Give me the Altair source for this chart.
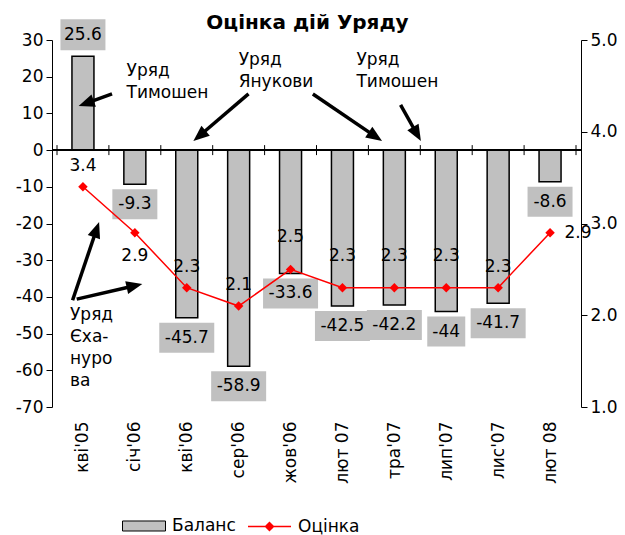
import json, math
import altair as alt
import pandas as pd

# ---------------- data ----------------
categories = ["кві'05", "січ'06", "кві'06", "сер'06", "жов'06",
              "лют 07", "тра'07", "лип'07", "лис'07", "лют 08"]
balance = [25.6, -9.3, -45.7, -58.9, -33.6, -42.5, -42.2, -44, -41.7, -8.6]
rating = [3.4, 2.9, 2.3, 2.1, 2.5, 2.3, 2.3, 2.3, 2.3, 2.9]
rating_label_side = ["above", "below", "above", "above", "high",
                     "high", "high", "high", "above", "right"]

left_ticks = list(range(-70, 31, 10))
right_ticks = [1, 2, 3, 4, 5]
series_names = ["Баланс", "Оцінка"]
title_text = "Оцінка дій Уряду"

# annotation texts (x in category units from left edge, y in balance units)
ann_text = ["Уряд\nТимошен", "Уряд\nЯнукови", "Уряд\nТимошен", "Уряд\nЄха-\nнуро\nва"]
ann_x = [1.34, 3.50, 5.77, 0.25]
ann_y = [20.3, 23.2, 23.2, -46.2]

# arrows: start and tip (same units)
arr_x1 = [1.06, 3.69, 4.93, 6.62, 0.30, 0.38]
arr_y1 = [15.3, 15.3, 15.3, 12.3, -40.9, -40.6]
arr_x2 = [0.42, 2.63, 6.26, 7.01, 0.81, 1.64]
arr_y2 = [12.0, 2.5, 2.5, 2.5, -19.6, -36.5]

# ---------------- layout ----------------
W, H = 529, 367
FONT = "DejaVu Sans"
n = len(categories)
sx = W / n          # px per category unit
sy = H / 100.0      # px per balance unit

df = pd.DataFrame({
    "cat": categories,
    "pos": [i + 0.5 for i in range(n)],
    "bal": balance,
    "rat": rating,
    "side": rating_label_side,
})
df["bal_lbl"] = [f"{v:g}" for v in balance]
df["len"] = df["bal_lbl"].str.len()
df["rat_lbl"] = [f"{v:.1f}" for v in rating]
df["s1"] = series_names[0]
df["s2"] = series_names[1]

bounds = pd.DataFrame({"b": list(range(n + 1))})

ann = pd.DataFrame({"x": ann_x, "y": ann_y, "t": ann_text})

# arrow geometry: head centre set back from tip along the direction
head_back = 10.0
rows = []
for x1, y1, x2, y2 in zip(arr_x1, arr_y1, arr_x2, arr_y2):
    dxp = (x2 - x1) * sx
    dyp = -(y2 - y1) * sy
    L = math.hypot(dxp, dyp)
    ux, uy = dxp / L, dyp / L
    cx = x2 - head_back * ux / sx
    cy = y2 + head_back * uy / sy
    ang = math.degrees(math.atan2(dxp, -dyp)) % 360
    rows.append({"x1": x1, "y1": y1, "cx": cx, "cy": cy, "ang": ang})
arr = pd.DataFrame(rows)

# ---------------- encodings ----------------
xscale = alt.Scale(domain=[0, n], nice=False, zero=False)
labelexpr = json.dumps(categories, ensure_ascii=False) + "[floor(datum.value)]"
xaxis = alt.Axis(values=[i + 0.5 for i in range(n)], labelExpr=labelexpr,
                 labelAngle=270, labelAlign="right", labelBaseline="middle",
                 ticks=False, domain=False, grid=False, title=None,
                 labelPadding=14, labelFontSize=17, labelOverlap=False,
                 labelColor="black", labelFont=FONT)
yl_scale = alt.Scale(domain=[-70, 30], nice=False)
yl_axis = alt.Axis(values=left_ticks, labelExpr="'' + datum.value", grid=False,
                   title=None, labelFontSize=17,
                   labelColor="black", domainColor="black", tickColor="black",
                   tickSize=6, labelPadding=3, labelFont=FONT)
yr_scale = alt.Scale(domain=[1, 5], nice=False, zero=False)
yr_axis = alt.Axis(values=right_ticks, format=".1f", orient="right", grid=False,
                   title=None, labelFontSize=17, labelColor="black",
                   domainColor="black", tickColor="black", tickSize=6,
                   labelPadding=3, labelFont=FONT)


def X(field):
    return alt.X(field, type="quantitative", scale=xscale, axis=xaxis)


def YL(field):
    return alt.Y(field, type="quantitative", scale=yl_scale, axis=yl_axis)


base = alt.Chart(df)

bars = base.mark_bar(width=22, color="#c0c0c0", stroke="black", strokeWidth=1.5).encode(
    x=X("pos"), y=YL("bal"),
    fill=alt.Fill("s1:N", scale=alt.Scale(domain=[series_names[0]], range=["#c0c0c0"]),
                  legend=alt.Legend(title=None, orient="none", legendX=70, legendY=464,
                                    symbolType="M-1,-0.233H1V0.233H-1Z", symbolSize=1849,
                                    symbolStrokeColor="black", symbolStrokeWidth=1,
                                    labelFontSize=17, labelOffset=6, padding=0,
                                    labelFont=FONT, labelColor="black")),
)

zero_rule = alt.Chart(df).mark_rule(color="black", strokeWidth=1).encode(
    y=alt.Y(datum=0, type="quantitative", scale=yl_scale, axis=yl_axis))

zero_ticks = alt.Chart(bounds).mark_point(shape="M0,-1V1", size=100, stroke="black",
                                          strokeWidth=1, filled=False, opacity=1).encode(
    x=X("b"), y=alt.Y(datum=0, type="quantitative", scale=yl_scale, axis=yl_axis))

box_w = {3: 38, 4: 45, 5: 55}
box_layers = []
for L in sorted(df["len"].unique()):
    for neg in (True, False):
        cond = f"datum.len == {L} && datum.bal {'<' if neg else '>='} 0"
        box_layers.append(
            base.transform_filter(cond).mark_bar(
                width=box_w[int(L)], color="#c0c0c0",
                yOffset=5 if neg else -6, y2Offset=35 if neg else -37).encode(
                x=X("pos"), y=YL("bal"), y2=alt.Y2("bal")))

lbl_neg = base.transform_filter("datum.bal < 0").mark_text(
    dy=20, fontSize=17, font=FONT, color="black", baseline="middle").encode(
    x=X("pos"), y=YL("bal"), text="bal_lbl:N")
lbl_pos = base.transform_filter("datum.bal >= 0").mark_text(
    dy=-21, fontSize=17, font=FONT, color="black", baseline="middle").encode(
    x=X("pos"), y=YL("bal"), text="bal_lbl:N")

ann_txt = alt.Chart(ann).mark_text(align="left", baseline="alphabetic", fontSize=17,
                                   font=FONT, color="black", lineBreak="\n",
                                   lineHeight=22).encode(
    x=X("x"), y=YL("y"), text="t:N")

arrow_lines = alt.Chart(arr).mark_rule(color="black", strokeWidth=3.5).encode(
    x=X("x1"), y=YL("y1"), x2="cx", y2="cy")
arrow_heads = alt.Chart(arr).mark_point(shape="M0,-1L0.65,0.6L-0.65,0.6Z", size=400,
                                        filled=True, color="black", opacity=1).encode(
    x=X("cx"), y=YL("cy"), angle=alt.Angle("ang:Q", scale=None))

left_group = alt.layer(bars, zero_rule, zero_ticks, *box_layers, lbl_neg, lbl_pos,
                       ann_txt, arrow_lines, arrow_heads)


def YR(field):
    return alt.Y(field, type="quantitative", scale=yr_scale, axis=yr_axis)


line = base.mark_line(color="red", strokeWidth=1.5).encode(x=X("pos"), y=YR("rat"))
pts = base.mark_point(shape="diamond", filled=True, size=90, opacity=1).encode(
    x=X("pos"), y=YR("rat"),
    color=alt.Color("s2:N", scale=alt.Scale(domain=[series_names[1]], range=["red"]),
                    legend=alt.Legend(title=None, orient="none", legendX=195, legendY=464,
                                      symbolType="M-1,-0.035H1V0.035H-1ZM0,-0.233L0.233,0L0,0.233L-0.233,0Z",
                                      symbolSize=1849, labelFontSize=17, labelOffset=6,
                                      padding=0, labelFont=FONT, labelColor="black")))

side_offsets = {"above": (0, -21), "high": (0, -32), "below": (0, 23), "right": (28, 0)}
rat_labels = [
    base.transform_filter(f"datum.side == '{s}'").mark_text(
        dx=d[0], dy=d[1], fontSize=17, font=FONT, color="black", baseline="middle").encode(
        x=X("pos"), y=YR("rat"), text="rat_lbl:N")
    for s, d in side_offsets.items()
]

right_group = alt.layer(line, pts, *rat_labels)

chart = alt.layer(left_group, right_group).resolve_scale(
    y="independent", fill="independent", color="independent"
).properties(
    width=W, height=H,
    title=alt.TitleParams(text=title_text, fontSize=20, font=FONT, fontWeight="bold",
                          anchor="middle", dx=-9, dy=18, color="black"),
    autosize=alt.AutoSizeParams(type="none"),
    padding={"left": 44, "top": 32, "right": 36, "bottom": 128},
    background="white",
).configure_view(stroke=None)

chart.save("out.html", embed_options={"renderer": "svg", "actions": False})
